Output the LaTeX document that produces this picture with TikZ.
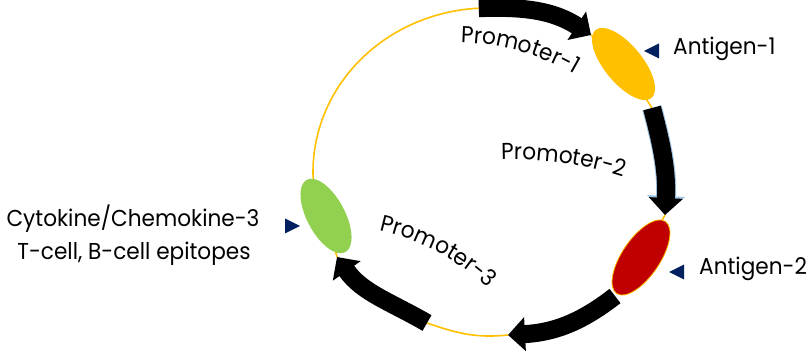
\documentclass[tikz,border=0pt]{standalone}
\usepackage{fontspec}
\setmainfont{Poppins}[FakeStretch=0.94]
\usetikzlibrary{arrows.meta,shapes.geometric,decorations.text,backgrounds}
\definecolor{gold}{HTML}{FFC000}
\definecolor{darkred}{HTML}{C00000}
\definecolor{leaf}{HTML}{92D050}
\definecolor{navy}{HTML}{002060}
\definecolor{glow}{HTML}{9DC3E6}
\newcommand{\lblfont}{\fontsize{23}{28}\selectfont}
\begin{document}
\begin{tikzpicture}[x=1pt,y=1pt,
  ring/.style={draw=gold, line width=1.6pt},
  bigarrow/.style={draw=black, line width=18pt, -{Triangle[length=17pt,width=33pt]}},
  gene/.style={ellipse, inner sep=0pt, minimum width=88pt, minimum height=38pt},
  lbl/.style={font=\lblfont, inner sep=0pt},
  marker/.style={fill=navy},
  promlabel/.style={decorate, decoration={text along path, text align=center, text={|\lblfont|#1}}}
]
\useasboundingbox (0,0) rectangle (810,352);

% arrow end points
\coordinate (t1tail) at (478.8,343.8);
\coordinate (t1tip) at (591,317);
\coordinate (t2tail) at (652,244);
\coordinate (t2tip) at (665,137);
\coordinate (t3tail) at (615,56);
\coordinate (t3tip) at (508,17);
\coordinate (t4tail) at (427,29);
\coordinate (t4tip) at (337,95);
\coordinate (ringL) at ([shift={(488,180)}]186:175pt and 164pt);

% genes
\node[gene, fill=gold, minimum width=88pt, rotate=-50.6] (ag1) at (623.5,288) {};
\node[gene, fill=darkred, draw=gold, line width=0.8pt, minimum width=87pt, rotate=56] (ag2) at (641,94.5) {};
\node[gene, fill=leaf, minimum width=82pt, rotate=-62] (cyt) at (326,136) {};

\begin{scope}[on background layer]
  % backbone ring
  \draw[ring] (ringL) arc[start angle=186, end angle=93, x radius=175pt, y radius=164pt];
  \draw[ring] (t4tail) to[out=-19, in=186] (t3tip);
  \draw[ring] (t1tip) -- (ag1.center);
  \draw[ring] (ag1.center) -- (t2tail);
  \draw[ring] (t2tip) -- (ag2.center);
  \draw[ring] (t4tip) -- (cyt.center);
  % promoter arrows
  \draw[bigarrow] (t1tail) to[out=2, in=147] (t1tip);
  \draw[bigarrow, preaction={draw=glow, line width=20pt, -{Triangle[length=19pt,width=37pt]}}] (t2tail) to[out=-75, in=87] (t2tip);
  \draw[bigarrow] (t3tail) to[out=218, in=3] (t3tip);
  \draw[bigarrow] (t4tail) to[out=150, in=-55] (t4tip);
\end{scope}

% promoter labels
\path[promlabel=Promoter-1] ([shift={(458,79.1)}]109.5:230pt) arc[start angle=109.5, end angle=39.5, radius=230pt];
\path[promlabel=Promoter-2] ([shift={(514.7,-157.8)}]97:350pt) arc[start angle=97, end angle=67, radius=350pt];
\path[promlabel=Promoter-3] ([shift={(329.9,-103.1)}]97:230pt) arc[start angle=97, end angle=27, radius=230pt];

% labels
\node[lbl, anchor=base west] (ag1lbl) at (673,297) {Antigen-1};
\node[lbl, anchor=base west] (ag2lbl) at (699,77) {Antigen-2};
\node[lbl, anchor=base] (cyt1) at (133,125) {Cytokine/Chemokine-3};
\node[lbl, anchor=base] (cyt2) at (134,92) {T-cell, B-cell epitopes};

% markers
\fill[marker] (644,301) -- (659,308.5) -- (659,293.5) -- cycle;
\fill[marker] (669,80) -- (684,87.5) -- (684,72.5) -- cycle;
\fill[marker] (300,126) -- (285,133.5) -- (285,118.5) -- cycle;
\end{tikzpicture}
\end{document}
